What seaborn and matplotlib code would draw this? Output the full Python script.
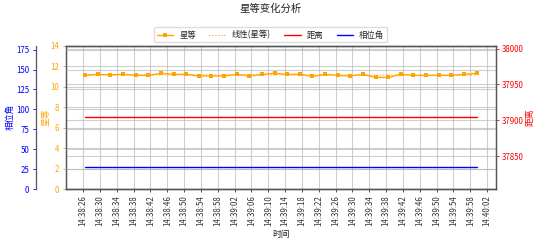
import matplotlib
matplotlib.use("Agg")
import matplotlib.pyplot as plt
import matplotlib.dates as mdates
import seaborn as sns
import numpy as np
import pandas as pd

# ---- data ----
times = ["14:38:26.5", "14:38:29.5", "14:38:32.5", "14:38:35.5", "14:38:38.5",
         "14:38:41.5", "14:38:44.5", "14:38:47.5", "14:38:50.5", "14:38:53.5",
         "14:38:56.5", "14:38:59.5", "14:39:02.5", "14:39:05.5", "14:39:08.5",
         "14:39:11.5", "14:39:14.5", "14:39:17.5", "14:39:20.5", "14:39:23.5",
         "14:39:26.5", "14:39:29.5", "14:39:32.5", "14:39:35.5", "14:39:38.5",
         "14:39:41.5", "14:39:44.5", "14:39:47.5", "14:39:50.5", "14:39:53.5",
         "14:39:56.5", "14:39:59.5"]
magnitude = [11.10, 11.20, 11.15, 11.20, 11.10, 11.10, 11.30, 11.20, 11.20, 11.05,
             11.05, 11.05, 11.20, 11.05, 11.20, 11.30, 11.20, 11.20, 11.00, 11.20,
             11.10, 11.05, 11.20, 10.90, 10.90, 11.20, 11.10, 11.10, 11.10, 11.10,
             11.20, 11.30]
distance = [37904, 37904, 37904, 37904, 37904, 37904, 37904, 37904, 37904, 37904,
            37904, 37904, 37904, 37904, 37904, 37904, 37904, 37904, 37904, 37904,
            37904, 37904, 37904, 37904, 37904, 37904, 37904, 37904, 37904, 37904,
            37904, 37904]
phase_angle = [27.3, 27.3, 27.3, 27.3, 27.3, 27.3, 27.3, 27.3, 27.3, 27.3,
               27.3, 27.3, 27.3, 27.3, 27.3, 27.3, 27.3, 27.3, 27.3, 27.3,
               27.3, 27.3, 27.3, 27.3, 27.3, 27.3, 27.3, 27.3, 27.3, 27.3,
               27.3, 27.3]
tick_labels = ["14:38:26", "14:38:30", "14:38:34", "14:38:38", "14:38:42",
               "14:38:46", "14:38:50", "14:38:54", "14:38:58", "14:39:02",
               "14:39:06", "14:39:10", "14:39:14", "14:39:18", "14:39:22",
               "14:39:26", "14:39:30", "14:39:34", "14:39:38", "14:39:42",
               "14:39:46", "14:39:50", "14:39:54", "14:39:58", "14:40:02"]
mag_ticks = [0, 2, 4, 6, 8, 10, 12, 14]
phase_ticks = [0, 25, 50, 75, 100, 125, 150, 175]
dist_ticks = [37850, 37900, 37950, 38000]

sns.set_theme(style="ticks")
plt.rcParams['font.family'] = ['Noto Sans CJK SC', 'DejaVu Sans']
plt.rcParams['axes.unicode_minus'] = False

day = "2024-01-01 "
df = pd.DataFrame({
    "time": pd.to_datetime([day + t for t in times]),
    "mag": magnitude,
    "dist": distance,
    "phase": phase_angle,
})
xnum = mdates.date2num(df["time"])
coef = np.polyfit(xnum - xnum[0], df["mag"], 1)
df["trend"] = np.polyval(coef, xnum - xnum[0])

fig = plt.figure(figsize=(5.41, 2.46), dpi=100)
ax = fig.add_axes([0.1214, 0.2317, 0.795, 0.5825])
ax_d = ax.twinx()
ax_p = ax.twinx()

ORANGE, RED, BLUE = "orange", "red", "blue"
fs = 5.7
lfs = 6.3

sns.lineplot(data=df, x="time", y="mag", ax=ax, color=ORANGE, marker="s",
             markersize=2.2, markeredgewidth=0, linewidth=1, label="星等", legend=False)
sns.lineplot(data=df, x="time", y="trend", ax=ax, color=ORANGE, linestyle=":",
             linewidth=0.8, label="线性(星等)", legend=False)
sns.lineplot(data=df, x="time", y="dist", ax=ax_d, color=RED, linewidth=1,
             label="距离", legend=False)
sns.lineplot(data=df, x="time", y="phase", ax=ax_p, color=BLUE, linewidth=1,
             label="相位角", legend=False)

# axes layout
ax_p.spines["left"].set_position(("outward", 21.6))
ax_p.spines["left"].set_visible(True)
ax_p.spines["right"].set_visible(False)
ax_p.yaxis.set_label_position("left")
ax_p.yaxis.set_ticks_position("left")

ax.set_ylim(0, 14)
ax.set_yticks(mag_ticks)
ax_p.set_ylim(0, 180)
ax_p.set_yticks(phase_ticks)
ax_d.set_ylim(37804, 38004)
ax_d.set_yticks(dist_ticks)

tick_pos = pd.to_datetime([day + t for t in tick_labels])
ax.set_xticks(tick_pos)
ax.set_xticklabels(tick_labels, rotation=90, fontsize=fs)
ax.set_xlim(pd.Timestamp(day + "14:38:21.85"), pd.Timestamp(day + "14:40:04.05"))

for a in (ax, ax_d, ax_p):
    a.grid(True, color="#b0b0b0", alpha=0.6, linewidth=0.8)
    for s in a.spines.values():
        s.set_color("#555555")
        s.set_linewidth(0.9)
ax.grid(True, axis="x", color="#b0b0b0", alpha=0.6, linewidth=0.8)

ax.tick_params(axis="y", colors=ORANGE, labelsize=fs, length=2.5, width=0.6, pad=2)
ax.tick_params(axis="x", colors="#333333", labelsize=fs, length=2.5, width=0.6, pad=2)
ax_d.tick_params(axis="y", colors=RED, labelsize=fs, length=2.5, width=0.6, pad=2)
ax_p.tick_params(axis="y", colors=BLUE, labelsize=fs, length=2.5, width=0.6, pad=2)
for s in ax_p.spines.values():
    s.set_color("#555555")

ax.set_xlabel("时间", fontsize=lfs, color="#222222", labelpad=3)
ax.set_ylabel("星等", fontsize=lfs, color=ORANGE, labelpad=0)
ax_d.set_ylabel("距离", fontsize=lfs, color=RED, labelpad=1)
ax_p.set_ylabel("相位角", fontsize=lfs, color=BLUE, labelpad=1)

fig.suptitle("星等变化分析", fontsize=7.5, x=0.5, y=0.985, color="#222222")

handles, labels = [], []
for a in (ax, ax_d, ax_p):
    h, l = a.get_legend_handles_labels()
    handles += h
    labels += l
fig.legend(handles, labels, loc="center", bbox_to_anchor=(0.5, 0.858), ncol=4,
           fontsize=6, frameon=True, handlelength=2.0, columnspacing=1.6,
           handletextpad=0.7, borderpad=0.35, framealpha=1, edgecolor="#dddddd")

fig.savefig("out.png", dpi=100)
